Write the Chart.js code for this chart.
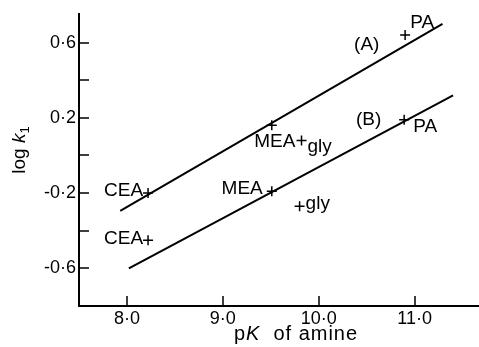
<!DOCTYPE html>
<html>
<head>
<meta charset="utf-8">
<script src="https://cdn.jsdelivr.net/npm/chart.js@4"></script>
<style>
 body { margin: 0; background: #fff; }
 canvas { display: block; }
</style>
</head>
<body>
<canvas id="k-chart" width="479" height="347"></canvas>
<script>
 // values
 const amines = ['CEA', 'MEA', 'gly', 'PA'];
 const pKA = [8.22, 9.51, 9.82, 10.90];
 const logkA = [-0.20, 0.16, 0.08, 0.64];
 const pKB = [8.22, 9.51, 9.80, 10.89];
 const logkB = [-0.45, -0.19, -0.27, 0.19];
 const lineAX = [7.93, 11.29];
 const lineAY = [-0.295, 0.70];
 const lineBX = [8.02, 11.40];
 const lineBY = [-0.60, 0.32];
 const seriesNames = ['(A)', '(B)'];
 const seriesNameX = [10.50, 10.52];
 const seriesNameY = [0.59, 0.19];
 const xTickLabels = [8, 9, 10, 11];
 const yTickLabels = [0.6, 0.2, -0.2, -0.6];

 const FONT = '"Liberation Sans", Arial, sans-serif';
 const toPts = (xs, ys) => xs.map((x, i) => ({ x: x, y: ys[i] }));
 const dotted = v => (v < 0 ? '-' : '') + Math.abs(v).toFixed(1).replace('.', '\u00b7');
 const near = (list, v) => list.some(t => Math.abs(t - v) < 1e-6);

 // where each amine name sits relative to its + marker (px)
 const labelPos = [
     [
         { dx: -5, dy: -2, align: 'right', base: 'middle' },
         { dx: 3, dy: 16, align: 'center', base: 'middle' },
         { dx: 6, dy: 12, align: 'left', base: 'alphabetic' },
         { dx: 17, dy: -12, align: 'center', base: 'middle' }
     ],
     [
         { dx: -5, dy: -1, align: 'right', base: 'middle' },
         { dx: -9, dy: -2, align: 'right', base: 'middle' },
         { dx: 6, dy: 3, align: 'left', base: 'alphabetic' },
         { dx: 21, dy: 7, align: 'center', base: 'middle' }
     ]
 ];

 function drawRuns(ctx, runs, x, y, spacing) {
     // runs: [{text, font, dy}], drawn left to right from x
     let cx = x;
     runs.forEach(r => {
         ctx.font = r.font;
         ctx.letterSpacing = (spacing || 0) + 'px';
         ctx.fillText(r.text, cx, y + (r.dy || 0));
         cx += ctx.measureText(r.text).width;
     });
     return cx - x;
 }
 function runsWidth(ctx, runs, spacing) {
     let w = 0;
     runs.forEach(r => {
         ctx.font = r.font;
         ctx.letterSpacing = (spacing || 0) + 'px';
         w += ctx.measureText(r.text).width;
     });
     return w;
 }

 const inwardTicks = {
     id: 'inwardTicks',
     afterDraw(chart) {
         const { ctx, chartArea: a } = chart;
         const xs = chart.scales.x, ys = chart.scales.y;
         ctx.save();
         ctx.strokeStyle = '#000';
         ctx.lineWidth = 1.5;
         ctx.beginPath();
         ys.ticks.forEach(t => {
             if (t.value <= ys.min + 1e-6) return;
             const py = Math.round(ys.getPixelForValue(t.value));
             ctx.moveTo(a.left, py);
             ctx.lineTo(a.left + 10, py);
         });
         xs.ticks.forEach(t => {
             const px = Math.round(xs.getPixelForValue(t.value));
             ctx.moveTo(px, a.bottom);
             ctx.lineTo(px, a.bottom - 10);
         });
         ctx.stroke();
         ctx.restore();
     }
 };

 const textLabels = {
     id: 'textLabels',
     afterDraw(chart) {
         const { ctx } = chart;
         const xs = chart.scales.x, ys = chart.scales.y;
         ctx.save();
         ctx.fillStyle = '#000';
         ctx.font = '19px ' + FONT;
         [[pKA, logkA], [pKB, logkB]].forEach((s, k) => {
             amines.forEach((name, i) => {
                 const p = labelPos[k][i];
                 ctx.textAlign = p.align;
                 ctx.textBaseline = p.base;
                 ctx.fillText(name, xs.getPixelForValue(s[0][i]) + p.dx, ys.getPixelForValue(s[1][i]) + p.dy);
             });
         });
         ctx.textAlign = 'center';
         ctx.textBaseline = 'middle';
         seriesNames.forEach((n, i) => {
             ctx.fillText(n, xs.getPixelForValue(seriesNameX[i]), ys.getPixelForValue(seriesNameY[i]));
         });

         // axis titles with italic symbols
         ctx.textAlign = 'left';
         ctx.textBaseline = 'alphabetic';
         const xRuns = [
             { text: 'p', font: '20px ' + FONT },
             { text: 'K', font: 'italic 20px ' + FONT },
             { text: '  of amine', font: '20px ' + FONT }
         ];
         const natural = runsWidth(ctx, xRuns, 0);
         const sp = (124 - natural) / 12;
         drawRuns(ctx, xRuns, 234, 340, sp);

         const yRuns = [
             { text: 'log ', font: '19px ' + FONT },
             { text: 'k', font: 'italic 19px ' + FONT },
             { text: '1', font: '13px ' + FONT, dy: 4 }
         ];
         const yw = runsWidth(ctx, yRuns, 0);
         ctx.translate(25, 150);
         ctx.rotate(-Math.PI / 2);
         drawRuns(ctx, yRuns, -yw / 2, 0, 0);
         ctx.restore();
     }
 };

 const ctx = document.getElementById('k-chart').getContext('2d');
 const lineStyle = { showLine: true, pointRadius: 0, borderColor: '#000', borderWidth: 2, fill: false };
 const markStyle = { showLine: false, pointStyle: 'cross', pointRadius: 5, borderColor: '#000', borderWidth: 1.5, backgroundColor: '#000' };
 const chartConfig = {
     type: 'scatter',
     data: {
         datasets: [
             Object.assign({ label: 'line A', data: toPts(lineAX, lineAY) }, lineStyle),
             Object.assign({ label: 'line B', data: toPts(lineBX, lineBY) }, lineStyle),
             Object.assign({ label: 'A', data: toPts(pKA, logkA) }, markStyle),
             Object.assign({ label: 'B', data: toPts(pKB, logkB) }, markStyle)
         ]
     },
     options: {
         responsive: false,
         animation: false,
         layout: { autoPadding: false, padding: { top: 12, right: 1, left: 0, bottom: 0 } },
         plugins: { legend: { display: false }, tooltip: { enabled: false } },
         scales: {
             x: {
                 type: 'linear',
                 position: 'bottom',
                 min: 7.5,
                 max: 11.66,
                 grid: { display: false, drawTicks: false },
                 border: { display: true, color: '#000', width: 2 },
                 ticks: {
                     stepSize: 1,
                     includeBounds: false,
                     autoSkip: false,
                     maxRotation: 0,
                     padding: 2,
                     color: '#000',
                     font: { family: FONT, size: 18 },
                     callback: v => near(xTickLabels, v) ? dotted(v) : ''
                 },
                 afterFit: s => { s.height = 41; }
             },
             y: {
                 min: -0.8,
                 max: 0.753,
                 grid: { display: false, drawTicks: false },
                 border: { display: true, color: '#000', width: 2 },
                 ticks: {
                     stepSize: 0.2,
                     includeBounds: false,
                     autoSkip: false,
                     padding: 3,
                     color: '#000',
                     font: { family: FONT, size: 18 },
                     callback: v => near(yTickLabels, v) ? dotted(v) : ''
                 },
                 afterFit: s => { s.width = 79; }
             }
         }
     },
     plugins: [inwardTicks, textLabels]
 };
 const kChart = new Chart(ctx, chartConfig);
</script>
</body>
</html>
